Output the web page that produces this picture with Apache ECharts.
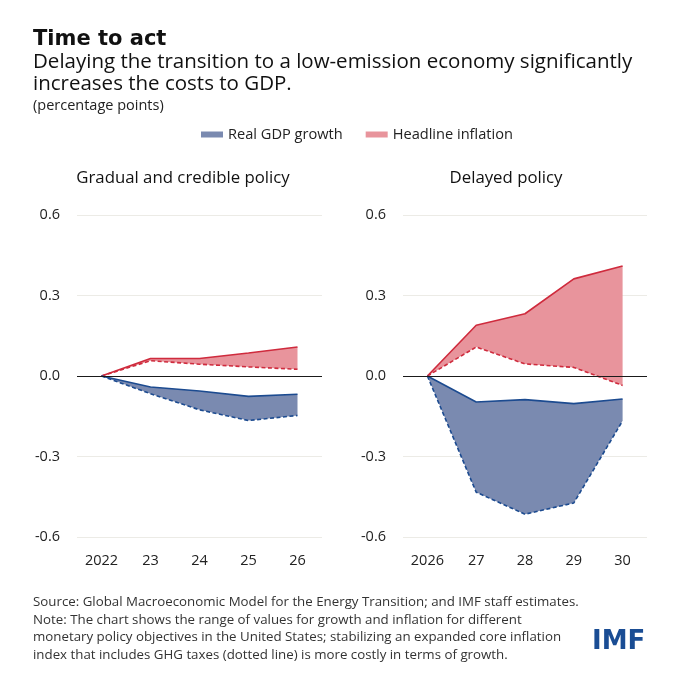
<!DOCTYPE html>
<html>
<head>
<meta charset="utf-8">
<script src="https://cdn.jsdelivr.net/npm/echarts@6/dist/echarts.min.js"></script>
<style>
html,body{margin:0;padding:0;background:#fff;}
#chart{width:680px;height:680px;}
</style>
</head>
<body>
<div id="chart"></div>
<script>
// ---- data ----
var leftYears = ['2022', '23', '24', '25', '26'];
var rightYears = ['2026', '27', '28', '29', '30'];
var yTicks = [-0.6, -0.3, 0, 0.3, 0.6];

var gradualGdpSolid  = [0, -0.041, -0.056, -0.076, -0.068];
var gradualGdpDotted = [0, -0.066, -0.126, -0.166, -0.147];
var gradualInfSolid  = [0, 0.065, 0.065, 0.086, 0.108];
var gradualInfDotted = [0, 0.057, 0.044, 0.034, 0.025];

var delayedGdpSolid  = [0, -0.097, -0.088, -0.103, -0.086];
var delayedGdpDotted = [0, -0.433, -0.515, -0.473, -0.167];
var delayedInfSolid  = [0, 0.189, 0.232, 0.362, 0.410];
var delayedInfDotted = [0, 0.108, 0.045, 0.032, -0.035];

// ---- styles ----
var GDP_FILL = '#7a8ab0', GDP_LINE = '#1c4b90';
var INF_FILL = '#e8949c', INF_LINE = '#cf2b3d';
var FONT = 'Open Sans';

function diff(a, b) { return a.map(function (v, i) { return +(v - b[i]).toFixed(4); }); }

function bandSeries(idx, key, name, lower, upper, fill) {
  return [
    { type: 'line', name: key + '_base', xAxisIndex: idx, yAxisIndex: idx, stack: key, stackStrategy: 'all',
      data: lower, symbol: 'none', lineStyle: { width: 0, opacity: 0 }, silent: true, z: 2 },
    { type: 'line', name: name, xAxisIndex: idx, yAxisIndex: idx, stack: key, stackStrategy: 'all',
      data: diff(upper, lower), symbol: 'none', color: fill, itemStyle: { color: fill },
      lineStyle: { width: 0, opacity: 0 }, areaStyle: { color: fill, opacity: 1 }, silent: true, z: 2 }
  ];
}
function lineSeries(idx, data, color, dashed) {
  return { type: 'line', name: 'l', xAxisIndex: idx, yAxisIndex: idx, data: data, symbol: 'none',
    lineStyle: { color: color, width: 1.6, type: dashed ? [4, 2.5] : 'solid' }, silent: true, z: 4 };
}
function zeroSeries(idx) {
  return { type: 'line', name: 'zero', xAxisIndex: idx, yAxisIndex: idx, data: [], silent: true, z: 6,
    markLine: { silent: true, symbol: 'none', label: { show: false },
      lineStyle: { color: '#1a1a1a', width: 1.2, type: 'solid' }, data: [{ yAxis: 0 }] } };
}

function xAxis(idx, cats) {
  return { type: 'category', gridIndex: idx, data: cats, boundaryGap: true,
    axisLine: { show: false }, axisTick: { show: false },
    axisLabel: { color: '#222', fontSize: 14.5, fontFamily: FONT, margin: 16 } };
}
function yAxis(idx) {
  return { type: 'value', gridIndex: idx, min: yTicks[0], max: yTicks[yTicks.length - 1], interval: 0.3,
    axisLine: { show: false }, axisTick: { show: false },
    splitLine: { lineStyle: { color: '#ecebe6', width: 1 } },
    axisLabel: { color: '#222', fontSize: 14.5, fontFamily: FONT, margin: 17,
      formatter: function (v) { return (Math.abs(v) < 1e-9 ? 0 : v).toFixed(1); } } };
}

var series = [].concat(
  bandSeries(0, 'gInf', 'Headline inflation', gradualInfDotted, gradualInfSolid, INF_FILL),
  bandSeries(0, 'gGdp', 'Real GDP growth', gradualGdpDotted, gradualGdpSolid, GDP_FILL),
  bandSeries(1, 'dInf', 'Headline inflation', delayedInfDotted, delayedInfSolid, INF_FILL),
  bandSeries(1, 'dGdp', 'Real GDP growth', delayedGdpDotted, delayedGdpSolid, GDP_FILL),
  [
    lineSeries(0, gradualInfSolid, INF_LINE, false),
    lineSeries(0, gradualInfDotted, INF_LINE, true),
    lineSeries(0, gradualGdpSolid, GDP_LINE, false),
    lineSeries(0, gradualGdpDotted, GDP_LINE, true),
    lineSeries(1, delayedInfSolid, INF_LINE, false),
    lineSeries(1, delayedInfDotted, INF_LINE, true),
    lineSeries(1, delayedGdpSolid, GDP_LINE, false),
    lineSeries(1, delayedGdpDotted, GDP_LINE, true),
    zeroSeries(0), zeroSeries(1)
  ]
);

var chart = echarts.init(document.getElementById('chart'), null, { renderer: 'canvas' });
chart.setOption({
  animation: false,
  backgroundColor: '#ffffff',
  title: [
    { text: 'Time to act', left: 33, top: 29, padding: 0,
      textStyle: { fontFamily: 'DejaVu Sans', fontSize: 21, fontWeight: 'bold', color: '#111' } },
    { text: 'Delaying the transition to a low-emission economy significantly\nincreases the costs to GDP.',
      left: 33, top: 51, padding: 0,
      textStyle: { fontFamily: FONT, fontSize: 20.5, fontWeight: 'normal', color: '#111', lineHeight: 22 } },
    { text: '(percentage points)', left: 33, top: 98, padding: 0,
      textStyle: { fontFamily: FONT, fontSize: 14.5, fontWeight: 'normal', color: '#222' } },
    { text: 'Gradual and credible policy', left: 183, top: 170, textAlign: 'center', padding: 0,
      textStyle: { fontFamily: FONT, fontSize: 16.8, fontWeight: 500, color: '#111' } },
    { text: 'Delayed policy', left: 506, top: 170, textAlign: 'center', padding: 0,
      textStyle: { fontFamily: FONT, fontSize: 16.8, fontWeight: 500, color: '#111' } },
    { text: 'Source: Global Macroeconomic Model for the Energy Transition; and IMF staff estimates.\nNote: The chart shows the range of values for growth and inflation for different\nmonetary policy objectives in the United States; stabilizing an expanded core inflation\nindex that includes GHG taxes (dotted line) is more costly in terms of growth.',
      left: 33, top: 594, padding: 0,
      textStyle: { fontFamily: FONT, fontSize: 13.3, fontWeight: 'normal', color: '#333', lineHeight: 17.4 } },
    { text: 'IMF', left: 592, top: 629, padding: 0,
      textStyle: { fontFamily: 'DejaVu Sans', fontSize: 26, fontWeight: 'bold', color: '#1a4d94' } }
  ],
  legend: {
    left: 201, top: 127, padding: 0, itemWidth: 22, itemHeight: 6, itemGap: 23, selectedMode: false,
    textStyle: { fontFamily: FONT, fontSize: 14.6, color: '#222' },
    data: [
      { name: 'Real GDP growth', icon: 'rect', itemStyle: { color: GDP_FILL, borderWidth: 0 } },
      { name: 'Headline inflation', icon: 'rect', itemStyle: { color: INF_FILL, borderWidth: 0 } }
    ]
  },
  grid: [
    { left: 77, right: 358, top: 215, bottom: 143 },
    { left: 403, right: 33, top: 215, bottom: 143 }
  ],
  xAxis: [xAxis(0, leftYears), xAxis(1, rightYears)],
  yAxis: [yAxis(0), yAxis(1)],
  series: series
});
</script>
</body>
</html>
